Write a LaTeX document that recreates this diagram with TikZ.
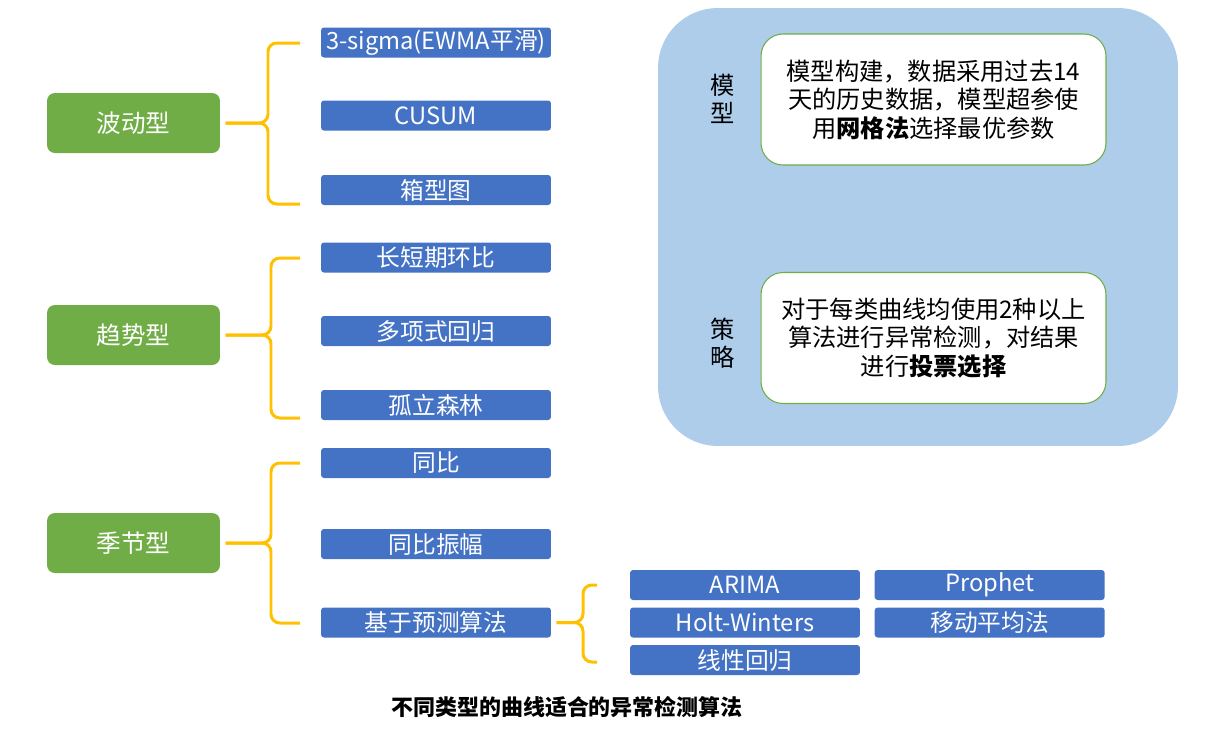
\documentclass[tikz,border=0pt]{standalone}
\usepackage{fontspec}
\setmainfont{Noto Sans CJK SC}
\usetikzlibrary{positioning,calc}

\definecolor{typegreen}{RGB}{112,173,71}
\definecolor{algoblue}{RGB}{68,114,196}
\definecolor{braceorange}{RGB}{255,192,0}
\definecolor{panelblue}{RGB}{173,205,234}

\tikzset{
  typebox/.style={rectangle,rounded corners=4.5pt,fill=typegreen,text=white,
    minimum width=3.46cm,minimum height=1.2cm,inner sep=0pt,
    font=\fontsize{14}{16}\selectfont},
  algobox/.style={rectangle,rounded corners=1.7pt,fill=algoblue,text=white,
    minimum width=4.6cm,minimum height=0.6cm,inner sep=0pt,
    font=\fontsize{13.5}{15}\selectfont},
  notebox/.style={rectangle,rounded corners=12.5pt,fill=white,draw=typegreen,
    line width=0.6pt,minimum width=6.9cm,minimum height=2.62cm,inner sep=0pt,
    align=center,font=\fontsize{13.8}{16.2}\selectfont},
  sidetag/.style={align=center,font=\fontsize{13.8}{16}\selectfont},
  brace/.style={draw=braceorange,line width=1.7pt,rounded corners=5pt}
}

\begin{document}
\begin{tikzpicture}[x=0.02cm,y=-0.02cm]
  \useasboundingbox (0,0) rectangle (1213,735);

  % curve types
  \node[typebox] (wave)   at (133.5,123) {波动型};
  \node[typebox] (trend)  at (133.5,335) {趋势型};
  \node[typebox] (season) at (133.5,543) {季节型};

  % algorithms per type
  \node[algobox] (sigma)  at (436,42.5)  {3-sigma(EWMA平滑)};
  \node[algobox] (cusum)  at (436,115.5) {CUSUM};
  \node[algobox] (boxplt) at (436,190)   {箱型图};
  \node[algobox] (ratio)  at (436,257.5) {长短期环比};
  \node[algobox] (poly)   at (436,331)   {多项式回归};
  \node[algobox] (iforest) at (436,405)  {孤立森林};
  \node[algobox] (yoy)    at (436,463)   {同比};
  \node[algobox] (yoyamp) at (436,544)   {同比振幅};
  \node[algobox] (pred)   at (436,622.5) {基于预测算法};

  % forecasting models
  \node[algobox] (arima)   at (745,585)   {ARIMA};
  \node[algobox,right=0.28cm of arima] (prophet) {Prophet};
  \node[algobox] (holt)    at (745,622.5) {Holt-Winters};
  \node[algobox,right=0.28cm of holt] (movavg) {移动平均法};
  \node[algobox] (linreg)  at (745,660)   {线性回归};

  % brace ends
  \coordinate (w1) at (300,43);
  \coordinate (w2) at (300,204);
  \coordinate (t1) at (300,258);
  \coordinate (t2) at (300,418);
  \coordinate (s1) at (300,463);
  \coordinate (s2) at (300,623);
  \coordinate (p1) at (597,585);
  \coordinate (p2) at (597,662);

  \draw[brace] (w1) -| (268,123) -- ([xshift=3pt]wave.east);
  \draw[brace] (w2) -| (268,123) -- ([xshift=3pt]wave.east);
  \draw[brace] (t1) -| (271,335) -- ([xshift=3pt]trend.east);
  \draw[brace] (t2) -| (271,335) -- ([xshift=3pt]trend.east);
  \draw[brace] (s1) -| (271,543) -- ([xshift=3pt]season.east);
  \draw[brace] (s2) -| (271,543) -- ([xshift=3pt]season.east);
  \draw[brace] (p1) -| (583,622.5) -- ([xshift=3pt]pred.east);
  \draw[brace] (p2) -| (583,622.5) -- ([xshift=3pt]pred.east);

  % model and strategy panel
  \node[rectangle,rounded corners=34pt,fill=panelblue,minimum width=10.4cm,
    minimum height=8.76cm] (panel) at (918,227) {};
  \node[notebox] (model) at (933.5,99.5)
    {模型构建，数据采用过去14\\天的历史数据，模型超参使\\用\textbf{网格法}选择最优参数};
  \node[notebox] (vote) at (933.5,338)
    {对于每类曲线均使用2种以上\\算法进行异常检测，对结果\\进行\textbf{投票选择}};
  \node[sidetag] (modeltag) at (723,99) {模\\型};
  \node[sidetag] (votetag)  at (723,343) {策\\略};

  \node[font=\fontsize{12.5}{15}\selectfont\bfseries] (caption) at (567,707)
    {不同类型的曲线适合的异常检测算法};
\end{tikzpicture}
\end{document}
